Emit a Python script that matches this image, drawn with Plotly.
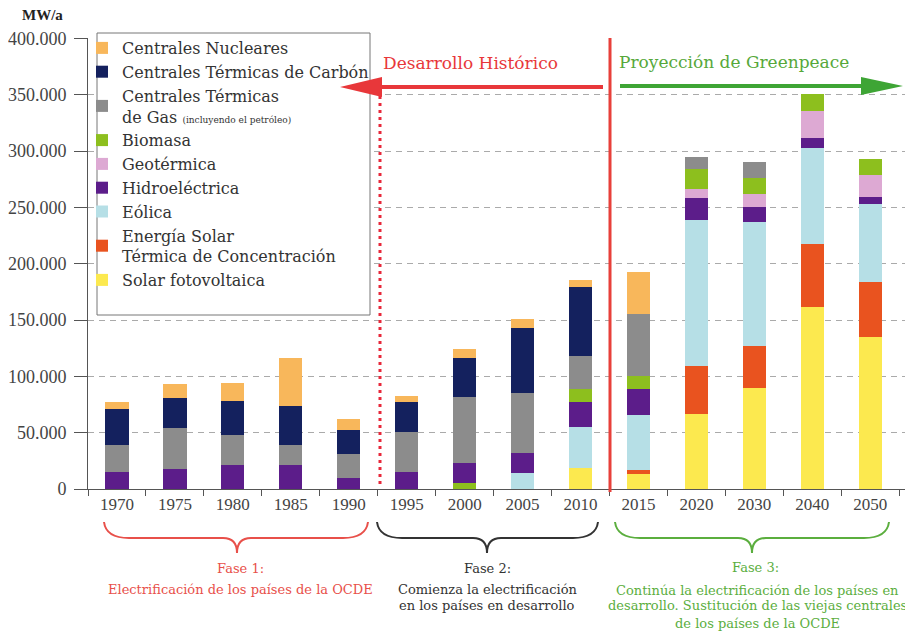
import plotly.graph_objects as go

years = ["1970", "1975", "1980", "1985", "1990", "1995", "2000", "2005", "2010",
         "2015", "2020", "2030", "2040", "2050"]

solar_fv = [0, 0, 0, 0, 0, 0, 0, 0, 19000, 13000, 67000, 90000, 162000, 135000]
solar_csp = [0, 0, 0, 0, 0, 0, 0, 0, 0, 4000, 42000, 37000, 56000, 49000]
eolica = [0, 0, 0, 0, 0, 0, 0, 14000, 36000, 49000, 130000, 110000, 85000, 69000]
hidro = [15000, 18000, 21000, 21000, 10000, 15000, 18000, 18000, 22000, 23000, 19000, 13000, 9000, 6000]
geotermica = [0, 0, 0, 0, 0, 0, 0, 0, 0, 0, 8000, 12000, 24000, 20000]
biomasa = [0, 0, 0, 0, 0, 0, 0, 0, 12000, 11000, 18000, 14000, 15000, 14000]
biomasa_base = [0, 0, 0, 0, 0, 0, 5000, 0, 0, 0, 0, 0, 0, 0]
gas = [24000, 36000, 27000, 18000, 21000, 36000, 59000, 53000, 29000, 55000, 11000, 14000, 0, 0]
carbon = [32000, 27000, 30000, 35000, 21000, 26000, 34000, 58000, 61000, 0, 0, 0, 0, 0]
nuclear = [6000, 12000, 16000, 42000, 10000, 6000, 8000, 8000, 7000, 38000, 0, 0, 0, 0]

SERIF = "Liberation Serif"
SERIF2 = "DejaVu Serif"

# page body has an 8px margin; geometry below is in page pixels
OFF = 8
W_FIG, H_FIG = 913 - OFF, 634 - OFF
L, R_EDGE, TOP, BOT = 88, 905, 38, 489
PW, PH = R_EDGE - L, BOT - TOP


def px(x):
    return (x - L) / PW


def py(y):
    return (BOT - y) / PH


fig = go.Figure()

series = [
    ("base", biomasa_base, "#8DBF1E", False),
    ("Solar fotovoltaica", solar_fv, "#FCE94F", True),
    ("Energía Solar<br>Térmica de Concentración", solar_csp, "#E9531F", True),
    ("Eólica", eolica, "#B6DFE6", True),
    ("Hidroeléctrica", hidro, "#5C1D8A", True),
    ("Geotérmica", geotermica, "#DDA9D3", True),
    ("Biomasa", biomasa, "#8DBF1E", True),
    ("Centrales Térmicas<br>de Gas <span style='font-size:9px'>(incluyendo el petróleo)</span>", gas, "#8C8C8C", True),
    ("Centrales Térmicas de Carbón", carbon, "#14215E", True),
    ("Centrales Nucleares", nuclear, "#F8B75B", True),
]

for name, vals, col, show in series:
    fig.add_trace(go.Bar(
        x=years, y=vals, name=name, marker=dict(color=col, line=dict(width=0)),
        showlegend=show,
    ))

shapes = []
# legend frame (drawn as a shape so the red arrow can overlap it)
shapes.append(dict(type="rect", xref="paper", yref="paper", layer="above",
                   x0=px(97), x1=px(370), y0=py(315), y1=py(33),
                   fillcolor="white", line=dict(color="#777", width=1)))
shapes.append(dict(type="line", xref="paper", yref="paper",
                   x0=px(380), x1=px(380), y0=py(96), y1=py(488),
                   line=dict(color="#E8283A", width=3, dash="3px,4px")))
shapes.append(dict(type="line", xref="paper", yref="paper",
                   x0=px(610), x1=px(610), y0=py(38), y1=py(492),
                   line=dict(color="#E8403A", width=3)))
shapes.append(dict(type="line", xref="paper", yref="paper",
                   x0=px(603), x1=px(375), y0=py(87), y1=py(87),
                   line=dict(color="#E8373A", width=4)))
shapes.append(dict(type="path", xref="paper", yref="paper",
                   path=f"M {px(340)},{py(87)} L {px(382)},{py(77)} L {px(382)},{py(97)} Z",
                   fillcolor="#E8373A", line=dict(width=0)))
shapes.append(dict(type="line", xref="paper", yref="paper",
                   x0=px(620), x1=px(868), y0=py(86), y1=py(86),
                   line=dict(color="#3EA535", width=4)))
shapes.append(dict(type="path", xref="paper", yref="paper",
                   path=f"M {px(903)},{py(86)} L {px(861)},{py(77)} L {px(861)},{py(95)} Z",
                   fillcolor="#3EA535", line=dict(width=0)))


def brace(x0, x1, xc, color):
    yt, ym, yp = 522, 538, 553
    p = (f"M {px(x0)},{py(yt)} Q {px(x0 + 2)},{py(ym)} {px(x0 + 25)},{py(ym)} "
         f"L {px(xc - 14)},{py(ym)} Q {px(xc)},{py(ym)} {px(xc)},{py(yp)} "
         f"Q {px(xc)},{py(ym)} {px(xc + 14)},{py(ym)} "
         f"L {px(x1 - 25)},{py(ym)} Q {px(x1 - 2)},{py(ym)} {px(x1)},{py(yt)}")
    return dict(type="path", xref="paper", yref="paper", path=p,
                line=dict(color=color, width=2))


shapes.append(brace(104, 368, 237, "#E8504A"))
shapes.append(brace(377, 598, 487, "#333333"))
shapes.append(brace(615, 889, 752, "#5BAE3E"))


def txt(text, x, y, color, size, family=SERIF2):
    return dict(text=text, x=px(x), y=py(y), xref="paper", yref="paper",
                xanchor="center", yanchor="middle", showarrow=False,
                font=dict(family=family, size=size, color=color))


RED, DARK, GREEN = "#E8504A", "#333333", "#5BAE3E"
annotations = [
    txt("<b>MW/a</b>", 42, 15, "#222", 15, SERIF),
    txt("Desarrollo Histórico", 470, 63, "#E8373A", 17),
    txt("Proyección de Greenpeace", 734, 62, "#56A83A", 17),
    txt("Fase 1:", 240, 568, RED, 13),
    txt("Electrificación de los países de la OCDE", 240, 589, RED, 13),
    txt("Fase 2:", 487, 568, DARK, 13),
    txt("Comienza la electrificación", 487, 589, DARK, 13),
    txt("en los países en desarrollo", 487, 606, DARK, 13),
    txt("Fase 3:", 755, 567, GREEN, 13),
    txt("Continúa la electrificación de los países en", 757, 590, GREEN, 13),
    txt("desarrollo. Sustitución de las viejas centrales", 757, 606, GREEN, 13),
    txt("de los países de la OCDE", 757, 623, GREEN, 13),
]

fig.update_layout(
    width=W_FIG, height=H_FIG,
    margin=dict(l=L - OFF, r=(913 - R_EDGE), t=TOP - OFF, b=(634 - BOT), pad=0,
                autoexpand=False),
    paper_bgcolor="white", plot_bgcolor="white",
    barmode="stack", bargap=0.6,
    separators=",.",
    font=dict(family=SERIF, size=16, color="#333"),
    showlegend=True,
    legend=dict(x=px(82), y=py(31), xanchor="left", yanchor="top",
                traceorder="reversed", bgcolor="rgba(0,0,0,0)",
                borderwidth=0, font=dict(family=SERIF2, size=16, color="#333")),
    xaxis=dict(type="category", range=[-0.5, 13.6], showgrid=False,
               showline=True, linecolor="#555", linewidth=1, automargin=False,
               ticks="outside", tickson="boundaries", ticklen=6, tickcolor="#555",
               tickfont=dict(family=SERIF, size=17, color="#444")),
    yaxis=dict(range=[0, 400500], dtick=50000, tickformat=",d", automargin=False,
               showgrid=True, gridcolor="#aaaaaa", gridwidth=1, griddash="6px,5px",
               showline=True, linecolor="#555", linewidth=1, zeroline=False,
               ticks="outside", ticklen=13, tickcolor="#555", ticklabelstandoff=4,
               tickfont=dict(family=SERIF, size=18, color="#444")),
    shapes=shapes, annotations=annotations,
)

fig.write_html("out.html")
